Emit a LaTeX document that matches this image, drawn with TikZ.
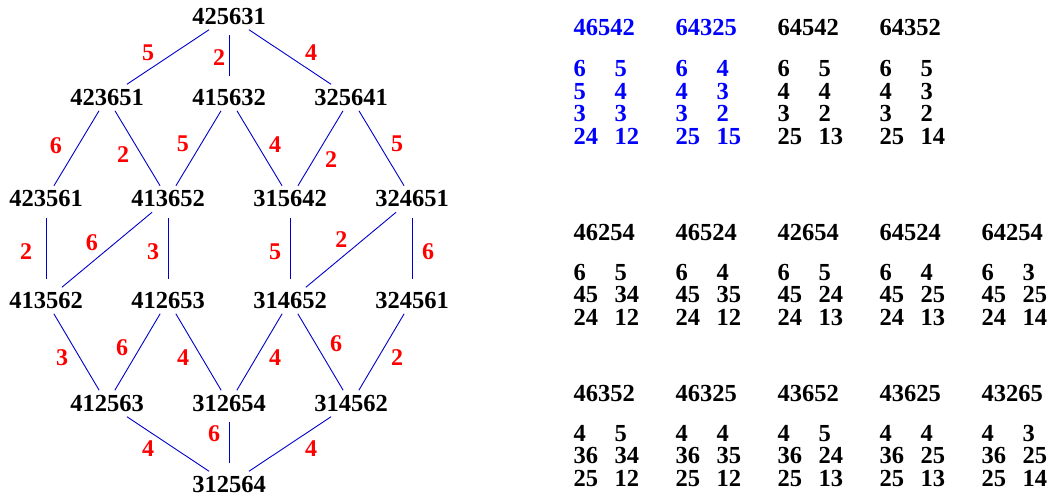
\documentclass[tikz,border=0pt]{standalone}
\usepackage{fontspec}
\setmainfont{Liberation Serif}

\begin{document}
\begin{tikzpicture}[
                x = 1pt, y = -1pt,
                permnode/.style = {
                    font      = \fontsize{24.5}{28}\selectfont\bfseries,
                    inner sep = 5pt,
                    outer sep = 0pt
                },
                permtext/.style = {
                    font      = \fontsize{24.5}{28}\selectfont\bfseries,
                    anchor    = base west,
                    inner sep = 0pt
                },
                edgeline/.style  = {draw = blue!80!black, line width = 0.9pt},
                vedge/.style     = {edgeline, shorten < = 5.5pt, shorten > = 8.5pt},
                steplabel/.style = {
                    text      = red,
                    font      = \fontsize{24}{28}\selectfont\bfseries,
                    inner sep = 0pt
                }
            ]

                \useasboundingbox (0, 0) rectangle (1050, 498);

                % the lattice
                \node[permnode] (top) at (229, 16.5)  {425631};
                \node[permnode] (a1)  at (107, 97.5)  {423651};
                \node[permnode] (a2)  at (229, 97.5)  {415632};
                \node[permnode] (a3)  at (351, 97.5)  {325641};
                \node[permnode] (b1)  at (46, 199)    {423561};
                \node[permnode] (b2)  at (168, 199)   {413652};
                \node[permnode] (b3)  at (290, 199)   {315642};
                \node[permnode] (b4)  at (412, 199)   {324651};
                \node[permnode] (c1)  at (46, 300.5)  {413562};
                \node[permnode] (c2)  at (168, 300.5) {412653};
                \node[permnode] (c3)  at (290, 300.5) {314652};
                \node[permnode] (c4)  at (412, 300.5) {324561};
                \node[permnode] (d1)  at (107, 403.5) {412563};
                \node[permnode] (d2)  at (229, 403.5) {312654};
                \node[permnode] (d3)  at (351, 403.5) {314562};
                \node[permnode] (bot) at (229, 484.5) {312564};

                \draw[edgeline] (top) -- node[steplabel, shift={(-20,-4)}] {5} (a1);
                \draw[vedge]    (top) -- node[steplabel, shift={(-10,1)}] {2} (a2);
                \draw[edgeline] (top) -- node[steplabel, shift={(21,-4)}] {4} (a3);

                \draw[edgeline] (a1) -- node[steplabel, shift={(-20.5,-3)}] {6} (b1);
                \draw[edgeline] (a1) -- node[steplabel, shift={(-14.5,6)}] {2} (b2);
                \draw[edgeline] (a2) -- node[steplabel, shift={(-15.5,-4)}] {5} (b2);
                \draw[edgeline] (a2) -- node[steplabel, shift={(15.5,-4)}] {4} (b3);
                \draw[edgeline] (a3) -- node[steplabel, shift={(10.5,11)}] {2} (b3);
                \draw[edgeline] (a3) -- node[steplabel, shift={(15.5,-4)}] {5} (b4);

                \draw[vedge]    (b1) -- node[steplabel, shift={(-20,2)}] {2} (c1);
                \draw[edgeline] (b2) -- node[steplabel, shift={(-15,-7)}] {6} (c1);
                \draw[vedge]    (b2) -- node[steplabel, shift={(-15,2)}] {3} (c2);
                \draw[vedge]    (b3) -- node[steplabel, shift={(-15,2)}] {5} (c3);
                \draw[edgeline] (b4) -- node[steplabel, shift={(-9.5,-10)}] {2} (c3);
                \draw[vedge]    (b4) -- node[steplabel, shift={(16,2)}] {6} (c4);

                \draw[edgeline] (c1) -- node[steplabel, shift={(-14.5,6)}] {3} (d1);
                \draw[edgeline] (c2) -- node[steplabel, shift={(-15.5,-4)}] {6} (d1);
                \draw[edgeline] (c2) -- node[steplabel, shift={(-15.5,6)}] {4} (d2);
                \draw[edgeline] (c3) -- node[steplabel, shift={(15.5,6)}] {4} (d2);
                \draw[edgeline] (c3) -- node[steplabel, shift={(15.5,-8)}] {6} (d3);
                \draw[edgeline] (c4) -- node[steplabel, shift={(15.5,6)}] {2} (d3);

                \draw[edgeline] (d1) -- node[steplabel, shift={(-20,5)}] {4} (bot);
                \draw[vedge]    (d2) -- node[steplabel, shift={(-15,-10)}] {6} (bot);
                \draw[edgeline] (d3) -- node[steplabel, shift={(21,5)}] {4} (bot);

                % the tables on the right
                \foreach \bx/\cl/\hd/\pa/\pb/\pc/\pd/\pe/\pf/\pg/\ph [count=\i] in {
                    573.5/blue/46542/6/5/5/4/3/3/24/12,
                    675.5/blue/64325/6/4/4/3/3/2/25/15,
                    777.5/black/64542/6/5/4/4/3/2/25/13,
                    879.5/black/64352/6/5/4/3/3/2/25/14}
                {
                    \node[permtext, text=\cl] (th\i) at (\bx, 35)       {\hd};
                    \node[permtext, text=\cl] (ta\i) at (\bx, 76.5)     {\pa};
                    \node[permtext, text=\cl] (tb\i) at (\bx+41, 76.5)  {\pb};
                    \node[permtext, text=\cl] (tc\i) at (\bx, 99)       {\pc};
                    \node[permtext, text=\cl] (td\i) at (\bx+41, 99)    {\pd};
                    \node[permtext, text=\cl] (te\i) at (\bx, 121.5)    {\pe};
                    \node[permtext, text=\cl] (tf\i) at (\bx+41, 121.5) {\pf};
                    \node[permtext, text=\cl] (tg\i) at (\bx, 144)      {\pg};
                    \node[permtext, text=\cl] (tk\i) at (\bx+41, 144)   {\ph};
                }

                \foreach \bx/\hd/\pa/\pb/\pc/\pd/\pe/\pf [count=\i] in {
                    573.5/46254/6/5/45/34/24/12,
                    675.5/46524/6/4/45/35/24/12,
                    777.5/42654/6/5/45/24/24/13,
                    879.5/64524/6/4/45/25/24/13,
                    981.5/64254/6/3/45/25/24/14}
                {
                    \node[permtext] (mh\i) at (\bx, 240)       {\hd};
                    \node[permtext] (ma\i) at (\bx, 280)       {\pa};
                    \node[permtext] (mb\i) at (\bx+41, 280)    {\pb};
                    \node[permtext] (mc\i) at (\bx, 302.5)     {\pc};
                    \node[permtext] (md\i) at (\bx+41, 302.5)  {\pd};
                    \node[permtext] (me\i) at (\bx, 325)       {\pe};
                    \node[permtext] (mf\i) at (\bx+41, 325)    {\pf};
                }

                \foreach \bx/\hd/\pa/\pb/\pc/\pd/\pe/\pf [count=\i] in {
                    573.5/46352/4/5/36/34/25/12,
                    675.5/46325/4/4/36/35/25/12,
                    777.5/43652/4/5/36/24/25/13,
                    879.5/43625/4/4/36/25/25/13,
                    981.5/43265/4/3/36/25/25/14}
                {
                    \node[permtext] (lh\i) at (\bx, 401)       {\hd};
                    \node[permtext] (la\i) at (\bx, 441)       {\pa};
                    \node[permtext] (lb\i) at (\bx+41, 441)    {\pb};
                    \node[permtext] (lc\i) at (\bx, 463.5)     {\pc};
                    \node[permtext] (ld\i) at (\bx+41, 463.5)  {\pd};
                    \node[permtext] (le\i) at (\bx, 486)       {\pe};
                    \node[permtext] (lf\i) at (\bx+41, 486)    {\pf};
                }
            \end{tikzpicture}
\end{document}
